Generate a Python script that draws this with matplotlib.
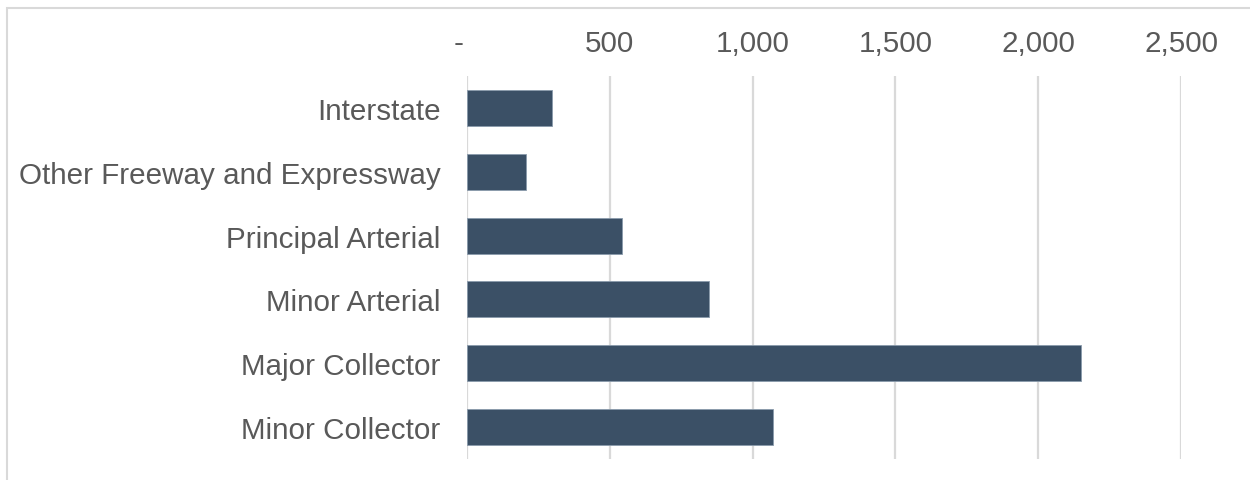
import matplotlib
matplotlib.use("Agg")
import matplotlib.pyplot as plt
from matplotlib.patches import Rectangle
from matplotlib.ticker import FuncFormatter

categories = ["Interstate", "Other Freeway and Expressway", "Principal Arterial",
              "Minor Arterial", "Major Collector", "Minor Collector"]
values = [299, 205, 541, 846, 2149, 1073]
xticks = [0, 500, 1000, 1500, 2000, 2500]

plt.rcParams['font.family'] = ['Liberation Sans', 'DejaVu Sans']
text_clr = '#595959'
grid_clr = '#d9d9d9'
bar_clr = '#3b5066'

fig = plt.figure(figsize=(12.5, 4.81), dpi=100)
ax = fig.add_axes([467/1250, 1 - 460/481, 714/1250, 383/481])

ypos = list(range(len(categories)))
ax.barh(ypos, values, height=0.5625, color=bar_clr, edgecolor='#8a9aab',
        linewidth=0.6, zorder=3)
ax.set_ylim(len(categories) - 0.5, -0.5)
ax.set_yticks(ypos)
ax.set_yticklabels(categories)

ax.set_xlim(0, 2500)
ax.set_xticks(xticks)
# accounting style: zero shown as a dash with trailing padding
ax.xaxis.set_major_formatter(FuncFormatter(lambda v, p: '-  ' if v == 0 else f'{int(v):,}'))
ax.xaxis.tick_top()
ax.tick_params(axis='x', length=0, pad=14, labelsize=21.3, labelcolor=text_clr)
ax.tick_params(axis='y', length=0, pad=19, labelsize=21.3, labelcolor=text_clr)
ax.xaxis.grid(True, color=grid_clr, linewidth=1.6, zorder=0)
ax.set_axisbelow(True)
for s in ax.spines.values():
    s.set_visible(False)

# outer chart border (cut off at right and bottom)
fig.patches.append(Rectangle((7/1250, -0.1), 1.2, 1 - 9/481 + 0.1,
                             transform=fig.transFigure, fill=False,
                             edgecolor=grid_clr, linewidth=1.5))

fig.savefig('out.png', dpi=100)
